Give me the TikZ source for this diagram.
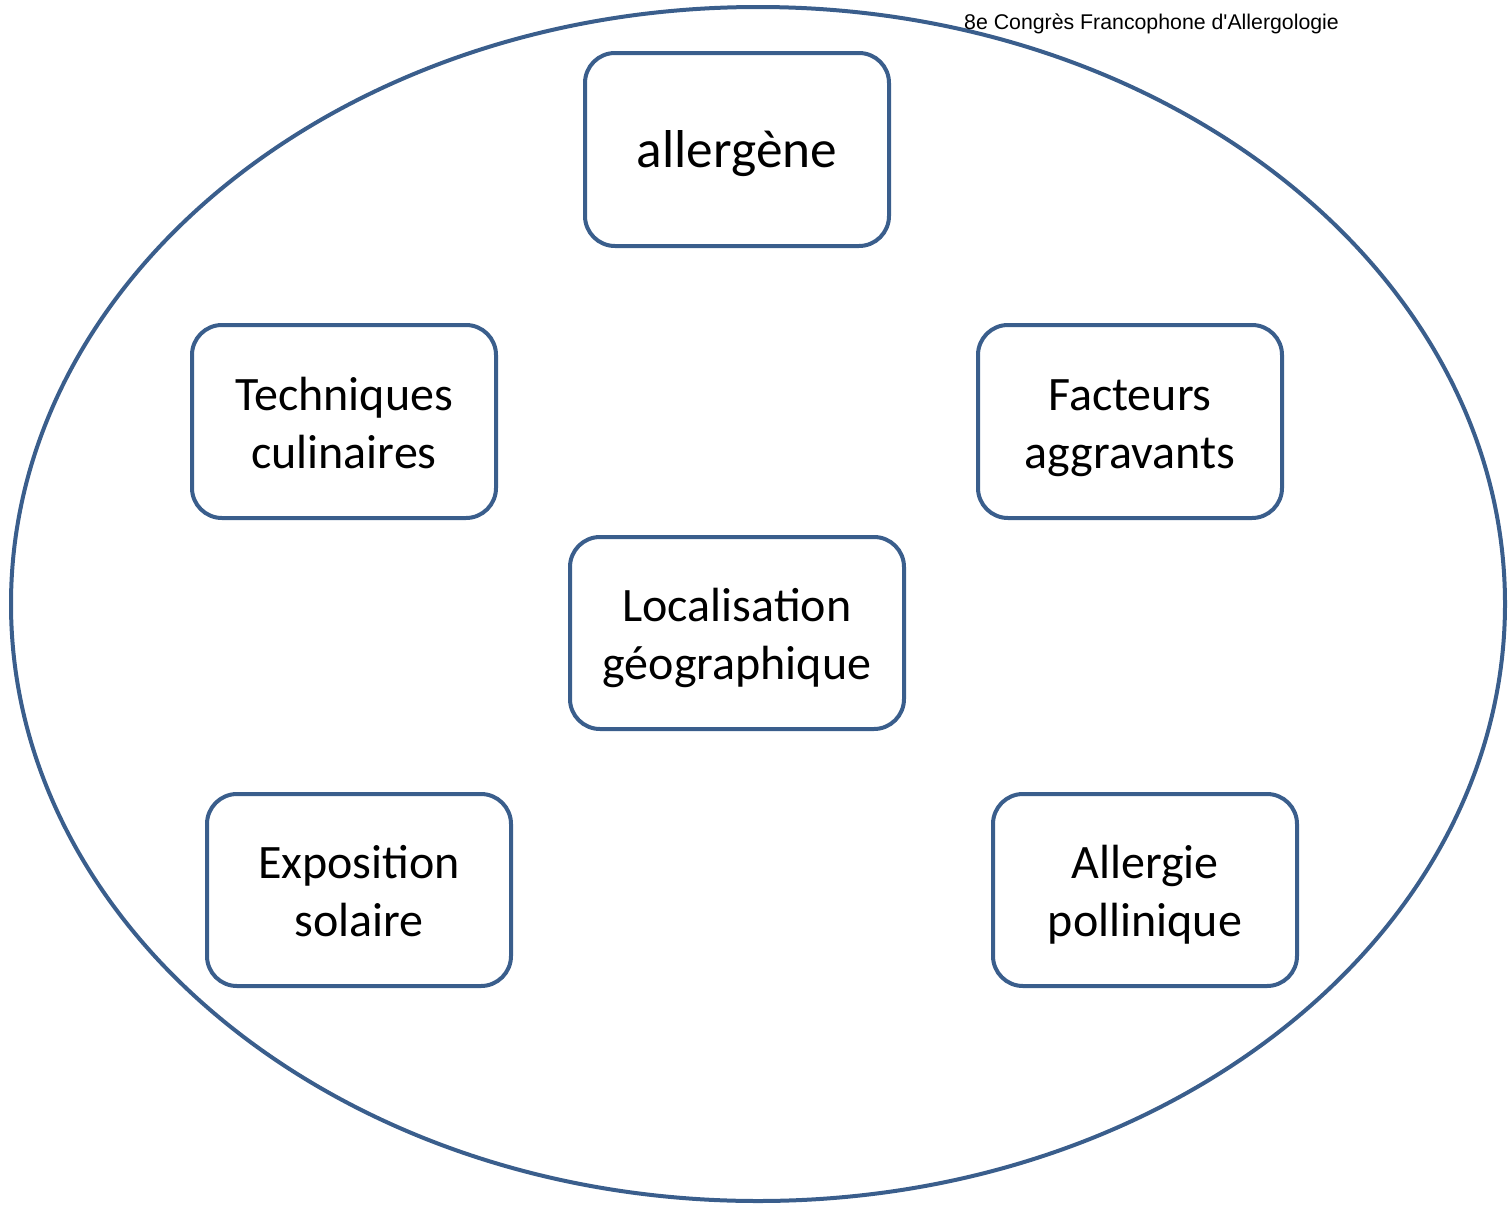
\documentclass[tikz,border=0pt]{standalone}
\usepackage{fontspec}
\setmainfont{Carlito}
\newfontfamily\titlefont{Liberation Sans}
\definecolor{frame}{HTML}{3A5E8C}
\newcommand\upstrut{\rule{0pt}{52.6pt}\strut}
\begin{document}
\begin{tikzpicture}[x=1pt,y=-1pt,
  box/.style={draw=frame, line width=4pt, rounded corners=30pt, minimum width=304pt, minimum height=193pt, align=center, font=\fontsize{48}{58}\selectfont, inner sep=0pt},
  oval/.style={draw=frame, line width=4pt}]
\useasboundingbox (0,0) rectangle (1508,1205);
\draw[oval] (758,604) ellipse [x radius=747, y radius=597];
\node[anchor=west, font=\titlefont\fontsize{21.3}{25}\selectfont, inner sep=0pt] (title) at (964,24) {8e Congrès Francophone d'Allergologie};
\node[box, font=\fontsize{53.3}{60}\selectfont] (allergene) at (737,149.5) {\rule{0pt}{54pt}\strut allergène};
\node[box] (tech) at (344,421.5) {\upstrut Techniques\\\strut culinaires};
\node[box] (fact) at (1130,421.5) {\upstrut Facteurs\\\strut aggravants};
\node[box, minimum width=334pt, minimum height=192pt] (loc) at (737,633) {\upstrut Localisation\\\strut géographique};
\node[box, minimum height=192pt] (expo) at (359,890) {\upstrut Exposition\\\strut solaire};
\node[box, minimum height=192pt] (poll) at (1145,890) {\upstrut Allergie\\\strut pollinique};
\end{tikzpicture}
\end{document}
